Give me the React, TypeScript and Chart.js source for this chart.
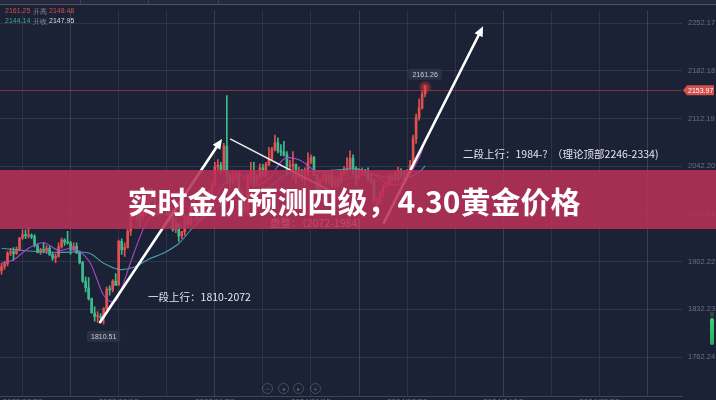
import React, { useEffect, useRef } from "react";
import { Chart, registerables } from "chart.js";
Chart.register(...registerables);

// ---------- data (XAUUSD daily) ----------
const START_DATE = "2023-08-21";
const CATEGORY_COUNT = 227;

const openP = [
  1889, 1895, 1899, 1915, 1917, 1914, 1920, 1937, 1942, 1940,
  1940, 1939, 1926, 1916, 1920, 1919, 1922, 1913, 1908, 1910,
  1924, 1934, 1931, 1930, 1920, 1925, 1916, 1901, 1874, 1864,
  1848, 1827, 1822, 1822, 1820, 1833, 1862, 1861, 1874, 1868,
  1932, 1920, 1923, 1947, 1974, 1981, 1973, 1970, 1979, 1984,
  2006, 1996, 1983, 1982, 1985, 1992, 1977, 1969, 1950, 1958,
  1940, 1946, 1963, 1959, 1981, 1981, 1978, 1998, 1990, 1992,
  2002, 2014, 2041, 2044, 2036, 2072, 2030, 2019, 2025, 2029,
  2004, 1981, 1979, 2027, 2035, 2019, 2027, 2040, 2030, 2045,
  2053, 2067, 2077, 2065, 2063, 2059, 2042, 2043, 2045, 2027,
  2029, 2024, 2029, 2049, 2055, 2029, 2006, 2023, 2029, 2021,
  2029, 2014, 2020, 2018, 2032, 2037, 2039, 2054, 2039, 2025,
  2035, 2035, 2034, 2024, 2020, 1992, 1992, 2004, 2013, 2017,
  2024, 2026, 2024, 2035, 2031, 2030, 2034, 2044, 2083, 2114,
  2128, 2148.48,
];
const highP = [
  1900, 1903, 1917, 1922, 1923, 1924, 1938, 1949, 1949, 1953,
  1943, 1942, 1928, 1922, 1930, 1926, 1925, 1916, 1914, 1930,
  1937, 1936, 1947, 1932, 1930, 1930, 1918, 1903, 1880, 1879,
  1849, 1836, 1829, 1826, 1835, 1865, 1867, 1876, 1885, 1934,
  1936, 1930, 1950, 1977, 1997, 1990, 1978, 1983, 1990, 2010,
  2010, 2006, 1987, 1992, 2003, 1995, 1979, 1971, 1966, 1959,
  1947, 1970, 1972, 1987, 1993, 1986, 2007, 2002, 1997, 2006,
  2018, 2048, 2052, 2048, 2076, 2146, 2032, 2036, 2035, 2034,
  2006, 1992, 2031, 2048, 2048, 2029, 2046, 2045, 2048, 2070,
  2070, 2088, 2084, 2074, 2079, 2064, 2051, 2064, 2046, 2041,
  2038, 2040, 2062, 2059, 2057, 2031, 2025, 2031, 2033, 2033,
  2037, 2023, 2026, 2035, 2042, 2055, 2065, 2059, 2042, 2039,
  2040, 2038, 2040, 2030, 2023, 1996, 2006, 2015, 2019, 2031,
  2031, 2034, 2041, 2039, 2036, 2038, 2051, 2088, 2119, 2141,
  2152, 2161.26,
];
const lowP = [
  1884, 1891, 1896, 1911, 1904, 1913, 1918, 1935, 1936, 1937,
  1936, 1924, 1915, 1913, 1915, 1914, 1911, 1904, 1901, 1909,
  1922, 1926, 1928, 1913, 1918, 1914, 1899, 1872, 1858, 1846,
  1827, 1815, 1813, 1813, 1810.51, 1831, 1853, 1858, 1867, 1868,
  1913, 1910, 1922, 1941, 1965, 1963, 1954, 1964, 1970, 1982,
  1990, 1979, 1970, 1975, 1982, 1970, 1962, 1947, 1945, 1932,
  1936, 1941, 1955, 1956, 1978, 1965, 1975, 1985, 1987, 1989,
  2000, 2012, 2035, 2032, 2035, 2017, 2011, 2016, 2020, 1994,
  1976, 1974, 1973, 2020, 2013, 2016, 2023, 2027, 2026, 2043,
  2052, 2065, 2062, 2058, 2057, 2030, 2035, 2024, 2017, 2025,
  2021, 2014, 2028, 2046, 2028, 2001, 2004, 2019, 2016, 2016,
  2011, 2010, 2012, 2016, 2028, 2030, 2036, 2030, 2014, 2023,
  2029, 2028, 2021, 2017, 1990, 1984, 1987, 1997, 2011, 2014,
  2019, 2020, 2021, 2026, 2025, 2028, 2033, 2039, 2076, 2110,
  2126, 2144.14,
];
const closeP = [
  1895, 1899, 1915, 1917, 1914, 1920, 1937, 1942, 1940, 1940,
  1939, 1926, 1916, 1920, 1919, 1922, 1913, 1908, 1910, 1924,
  1934, 1931, 1930, 1920, 1925, 1916, 1901, 1874, 1864, 1848,
  1827, 1822, 1822, 1820, 1833, 1862, 1861, 1874, 1868, 1932,
  1920, 1923, 1947, 1974, 1981, 1973, 1970, 1979, 1984, 2006,
  1996, 1983, 1982, 1985, 1992, 1977, 1969, 1950, 1958, 1940,
  1946, 1963, 1959, 1981, 1981, 1978, 1998, 1990, 1992, 2002,
  2014, 2041, 2044, 2036, 2072, 2030, 2019, 2025, 2029, 2004,
  1981, 1979, 2027, 2035, 2019, 2027, 2040, 2030, 2045, 2053,
  2067, 2077, 2065, 2063, 2059, 2042, 2043, 2045, 2027, 2029,
  2024, 2029, 2049, 2055, 2029, 2006, 2023, 2029, 2021, 2029,
  2014, 2020, 2018, 2032, 2037, 2039, 2054, 2039, 2025, 2035,
  2035, 2034, 2024, 2020, 1992, 1992, 2004, 2013, 2017, 2024,
  2026, 2024, 2035, 2031, 2030, 2034, 2044, 2083, 2114, 2128,
  2148, 2153.97,
];

// moving-average lines, read at sample candles
const maFastIdx = [0, 4, 9, 14, 19, 24, 29, 32, 34, 37, 39, 44, 49, 54, 59, 64, 69, 74, 79, 84, 89, 94, 99, 104, 109, 114, 119, 124, 129, 134, 139, 141];
const maFastVal = [1900, 1905, 1922, 1930, 1919, 1922, 1904, 1874, 1853, 1843, 1852, 1914, 1966, 1985, 1973, 1962, 1979, 2017, 2031, 2015, 2024, 2053, 2052, 2037, 2031, 2023, 2031, 2030, 2016, 2020, 2055, 2080];
const maSlowIdx = [0, 9, 19, 29, 34, 39, 44, 49, 54, 59, 64, 69, 74, 79, 84, 89, 94, 99, 104, 109, 114, 119, 124, 129, 134, 139, 141];
const maSlowVal = [1922, 1918, 1916, 1915, 1900, 1891, 1894, 1906, 1915, 1929, 1954, 1973, 1988, 1994, 1998, 2011, 2028, 2036, 2035, 2036, 2038, 2038, 2030, 2026, 2024, 2034, 2043];

const yTickValues = [2252.17, 2182.18, 2112.19, 2042.2, 1972.21, 1902.22, 1832.23, 1762.24];
const Y_MIN = 1705.2;
const Y_MAX = 2270.9;
const lastPrice = 2153.97;
const lowMarkIdx = 34;
const highMarkIdx = 141;

// annotations (category index, price)
const arrowFromIdx = [32.8, 127.3];
const arrowFromPrice = [1813.5, 1959.7];
const arrowToIdx = [73.4, 160.3];
const arrowToPrice = [2082.5, 2247.8];
const trendFrom: [number, number] = [76.1, 2082.5];
const trendTo: [number, number] = [109.4, 2006.5];
const noteTexts = ["一段上行：1810-2072", "二段上行：1984-?  （理论顶部2246-2334)", "盘整：（2072-1984)"];
const noteIdx = [48.8, 153.6, 89.4];
const notePrice = [1850.1, 2060.6, 1959.7];

const bannerText = "实时金价预测四级，4.30黄金价格";

// ---------- helpers ----------
function tradingDays(start: string, n: number): string[] {
  const out: string[] = [];
  const d = new Date(start + "T00:00:00Z");
  while (out.length < n) {
    const wd = d.getUTCDay();
    const m = d.getUTCMonth() + 1;
    const day = d.getUTCDate();
    const hol = (m === 12 && day === 25) || (m === 1 && day === 1);
    if (wd !== 0 && wd !== 6 && !hol) {
      out.push(`${d.getUTCFullYear()}/${String(m).padStart(2, "0")}/${String(day).padStart(2, "0")}`);
    }
    d.setUTCDate(d.getUTCDate() + 1);
  }
  return out;
}

function sparse(idx: number[], vals: number[], len: number) {
  const arr: (number | null)[] = new Array(len).fill(null);
  idx.forEach((k, j) => (arr[k] = vals[j]));
  return arr;
}

const RED = "#e0514f";
const GREEN = "#3dbb8c";

function drawArrow(ctx: CanvasRenderingContext2D, x1: number, y1: number, x2: number, y2: number, w: number, head: number) {
  const a = Math.atan2(y2 - y1, x2 - x1);
  ctx.lineWidth = w;
  ctx.beginPath();
  ctx.moveTo(x1, y1);
  ctx.lineTo(x2 - Math.cos(a) * head * 0.7, y2 - Math.sin(a) * head * 0.7);
  ctx.stroke();
  const bx = x2 - head * Math.cos(a);
  const by = y2 - head * Math.sin(a);
  const hw = head * 0.45;
  ctx.beginPath();
  ctx.moveTo(x2, y2);
  ctx.lineTo(bx + hw * Math.sin(a), by - hw * Math.cos(a));
  ctx.lineTo(bx - hw * Math.sin(a), by + hw * Math.cos(a));
  ctx.closePath();
  ctx.fill();
}

function labelBox(ctx: CanvasRenderingContext2D, cx: number, cy: number, text: string) {
  ctx.font = '7px "Liberation Sans", Arial, sans-serif';
  const w = ctx.measureText(text).width + 8;
  const h = 11;
  ctx.fillStyle = "rgba(44,52,72,0.95)";
  ctx.beginPath();
  (ctx as any).roundRect(cx - w / 2, cy - h / 2, w, h, 2);
  ctx.fill();
  ctx.fillStyle = "#c9cdd8";
  ctx.textAlign = "center";
  ctx.textBaseline = "middle";
  ctx.fillText(text, cx, cy + 0.5);
}

const overlayPlugin = {
  id: "overlay",
  beforeDatasetsDraw(chart: any) {
    const { ctx, chartArea, scales } = chart;
    const py = scales.y.getPixelForValue(lastPrice);
    ctx.save();
    ctx.strokeStyle = "rgba(190,55,70,0.6)";
    ctx.lineWidth = 1;
    ctx.beginPath();
    ctx.moveTo(chartArea.left, Math.round(py) + 0.5);
    ctx.lineTo(chartArea.right, Math.round(py) + 0.5);
    ctx.stroke();
    ctx.restore();
  },
  afterDatasetsDraw(chart: any) {
    const { ctx, scales } = chart;
    const x = scales.x;
    const y = scales.y;
    ctx.save();
    // glow on latest high
    const gx = x.getPixelForValue(highMarkIdx);
    const gy = y.getPixelForValue(highP[highMarkIdx]);
    const g = ctx.createRadialGradient(gx, gy + 2, 0, gx, gy + 2, 7);
    g.addColorStop(0, "rgba(255,60,60,0.8)");
    g.addColorStop(1, "rgba(255,60,60,0)");
    ctx.fillStyle = g;
    ctx.fillRect(gx - 8, gy - 6, 16, 16);

    // trend line (consolidation)
    ctx.strokeStyle = "rgba(255,255,255,0.9)";
    ctx.lineWidth = 1.6;
    ctx.beginPath();
    ctx.moveTo(x.getPixelForValue(trendFrom[0]), y.getPixelForValue(trendFrom[1]));
    ctx.lineTo(x.getPixelForValue(trendTo[0]), y.getPixelForValue(trendTo[1]));
    ctx.stroke();

    // arrows
    ctx.strokeStyle = "#ffffff";
    ctx.fillStyle = "#ffffff";
    ctx.lineCap = "round";
    for (let k = 0; k < arrowFromIdx.length; k++) {
      drawArrow(
        ctx,
        x.getPixelForValue(arrowFromIdx[k]),
        y.getPixelForValue(arrowFromPrice[k]),
        x.getPixelForValue(arrowToIdx[k]),
        y.getPixelForValue(arrowToPrice[k]),
        2.6,
        10
      );
    }

    // notes
    ctx.font = '10.5px "Noto Sans CJK SC", sans-serif';
    ctx.textAlign = "left";
    ctx.textBaseline = "middle";
    ctx.fillStyle = "#e4e6ec";
    noteTexts.forEach((t, k) => {
      ctx.fillText(t, x.getPixelForValue(noteIdx[k]), y.getPixelForValue(notePrice[k]));
    });

    // low / high labels
    labelBox(ctx, x.getPixelForValue(lowMarkIdx), y.getPixelForValue(lowP[lowMarkIdx]) + 12, lowP[lowMarkIdx].toFixed(2));
    labelBox(ctx, x.getPixelForValue(highMarkIdx), y.getPixelForValue(highP[highMarkIdx]) - 11, highP[highMarkIdx].toFixed(2));

    // price tag
    const py = y.getPixelForValue(lastPrice);
    const left = chart.chartArea.right;
    ctx.fillStyle = "#d4504b";
    ctx.beginPath();
    ctx.moveTo(left + 1, py);
    ctx.lineTo(left + 5, py - 5);
    ctx.lineTo(left + 32, py - 5);
    ctx.lineTo(left + 32, py + 5);
    ctx.lineTo(left + 5, py + 5);
    ctx.closePath();
    ctx.fill();
    ctx.fillStyle = "#ffffff";
    ctx.font = '7px "Liberation Sans", Arial, sans-serif';
    ctx.textAlign = "left";
    ctx.textBaseline = "middle";
    ctx.fillText(lastPrice.toFixed(2), left + 6, py + 0.5);
    ctx.restore();
  },
};

export default function App() {
  const ref = useRef<HTMLCanvasElement | null>(null);

  useEffect(() => {
    if (!ref.current) return;
    const labels = tradingDays(START_DATE, CATEGORY_COUNT);
    const colors = closeP.map((c, i) => (c >= openP[i] ? RED : GREEN));
    const n = closeP.length;

    const chart = new Chart(ref.current, {
      type: "bar",
      data: {
        labels,
        datasets: [
          {
            type: "line",
            data: sparse(maFastIdx, maFastVal, n) as any,
            borderColor: "rgba(178,72,215,0.95)",
            borderWidth: 1.1,
            pointRadius: 0,
            tension: 0.35,
            spanGaps: true,
            order: 0,
          } as any,
          {
            type: "line",
            data: sparse(maSlowIdx, maSlowVal, n) as any,
            borderColor: "rgba(70,170,190,0.9)",
            borderWidth: 1.1,
            pointRadius: 0,
            tension: 0.35,
            spanGaps: true,
            order: 0,
          } as any,
          {
            type: "bar",
            data: lowP.map((l, i) => [l, highP[i]]) as any,
            backgroundColor: colors,
            barThickness: 1,
            grouped: false,
            order: 2,
          } as any,
          {
            type: "bar",
            data: openP.map((o, i) => [o, closeP[i]]) as any,
            backgroundColor: colors,
            barThickness: 2,
            minBarLength: 1,
            grouped: false,
            order: 1,
          } as any,
        ],
      },
      options: {
        responsive: false,
        animation: false,
        events: [],
        layout: { padding: { top: 5, left: 0, right: 0, bottom: 0 } },
        plugins: { legend: { display: false }, tooltip: { enabled: false } },
        scales: {
          x: {
            type: "category",
            offset: true,
            border: { display: true, color: "rgba(255,255,255,0.16)" },
            grid: {
              offset: false,
              drawTicks: false,
              color: (ctx: any) => {
                const i = ctx.index;
                if ((i - 7) % 16 !== 0) return "rgba(0,0,0,0)";
                return (i - 23) % 48 === 0 ? "rgba(255,255,255,0.13)" : "rgba(255,255,255,0.07)";
              },
            },
            ticks: {
              autoSkip: false,
              maxRotation: 0,
              minRotation: 0,
              padding: 1,
              color: "#6a7184",
              font: { size: 8, family: '"Liberation Sans", Arial, sans-serif' },
              callback: (_v: any, i: number) => ((i - 7) % 32 === 0 ? labels[i] : ""),
            },
            afterFit: (s: any) => {
              s.height = 20;
            },
          },
          y: {
            position: "right",
            min: Y_MIN,
            max: Y_MAX,
            border: { display: false },
            grid: { color: "rgba(255,255,255,0.09)", drawTicks: false },
            afterBuildTicks: (s: any) => {
              s.ticks = yTickValues.map((v) => ({ value: v }));
            },
            ticks: {
              padding: 6,
              color: "#6a7184",
              font: { size: 7.5, family: '"Liberation Sans", Arial, sans-serif' },
              callback: (v: any) => Number(v).toFixed(2),
            },
            afterFit: (s: any) => {
              s.width = 34;
            },
          },
        },
      },
      plugins: [overlayPlugin as any],
    });
    return () => chart.destroy();
  }, []);

  const small: React.CSSProperties = { fontFamily: '"Liberation Sans", Arial, sans-serif', fontSize: 7, position: "absolute" };
  const navX = [267, 283, 298, 315];
  const navGlyph = ["−", "◂", "▸", "+"];

  return (
    <div
      style={{
        position: "fixed",
        left: 0,
        top: 0,
        width: 716,
        height: 400,
        overflow: "hidden",
        background: "#1c2235",
      }}
    >
      <canvas ref={ref} width={716} height={416} style={{ position: "absolute", left: 0, top: 0 }} />
      {/* toolbar */}
      <div style={{ position: "absolute", left: 0, top: 0, width: 716, height: 4, background: "#232a3d" }} />
      <div style={{ position: "absolute", left: 0, top: 4, width: 716, height: 1, background: "rgba(150,105,125,0.55)" }} />
      {[80, 148, 218].map((sx) => (
        <div key={sx} style={{ position: "absolute", left: sx, top: 0, width: 1, height: 4, background: "#3a4156" }} />
      ))}
      {/* OHLC readout */}
      <div style={{ ...small, left: 5, top: 7, color: "#c9504e" }}>2161.25</div>
      <div style={{ ...small, left: 33, top: 7, color: "#8a8f9c" }}>开高</div>
      <div style={{ ...small, left: 49, top: 7, color: "#c9504e" }}>2148.48</div>
      <div style={{ ...small, left: 5, top: 17, color: "#3aa88a" }}>2144.14</div>
      <div style={{ ...small, left: 33, top: 17, color: "#8a8f9c" }}>开收</div>
      <div style={{ ...small, left: 49, top: 17, color: "#d8dae0" }}>2147.95</div>
      {/* right side scroll bar */}
      <div style={{ position: "absolute", left: 710, top: 312, width: 4, height: 5, background: "#3a3f4c" }} />
      <div
        style={{
          position: "absolute",
          left: 710,
          top: 318,
          width: 4,
          height: 27,
          borderRadius: 2,
          background: "linear-gradient(#3fcf7a,#2aa860)",
        }}
      />
      {/* navigation buttons */}
      {navX.map((nx, k) => (
        <div
          key={nx}
          style={{
            position: "absolute",
            left: nx - 5,
            top: 383,
            width: 9,
            height: 9,
            borderRadius: "50%",
            border: "1px solid rgba(255,255,255,0.18)",
            color: "rgba(255,255,255,0.3)",
            fontSize: 6,
            lineHeight: "9px",
            textAlign: "center",
            fontFamily: "DejaVu Sans, sans-serif",
          }}
        >
          {navGlyph[k]}
        </div>
      ))}
      {/* banner */}
      <div
        style={{
          position: "absolute",
          left: 0,
          top: 170,
          width: 716,
          height: 59,
          background: "rgba(186,48,88,0.87)",
          display: "flex",
          alignItems: "center",
          justifyContent: "center",
          paddingRight: 8,
          boxSizing: "border-box",
        }}
      >
        <span
          style={{
            color: "#ffffff",
            fontFamily: '"Noto Sans CJK SC", sans-serif',
            fontWeight: 700,
            fontSize: 30,
            letterSpacing: 0,
            lineHeight: 1,
          }}
        >
          {bannerText}
        </span>
      </div>
    </div>
  );
}
